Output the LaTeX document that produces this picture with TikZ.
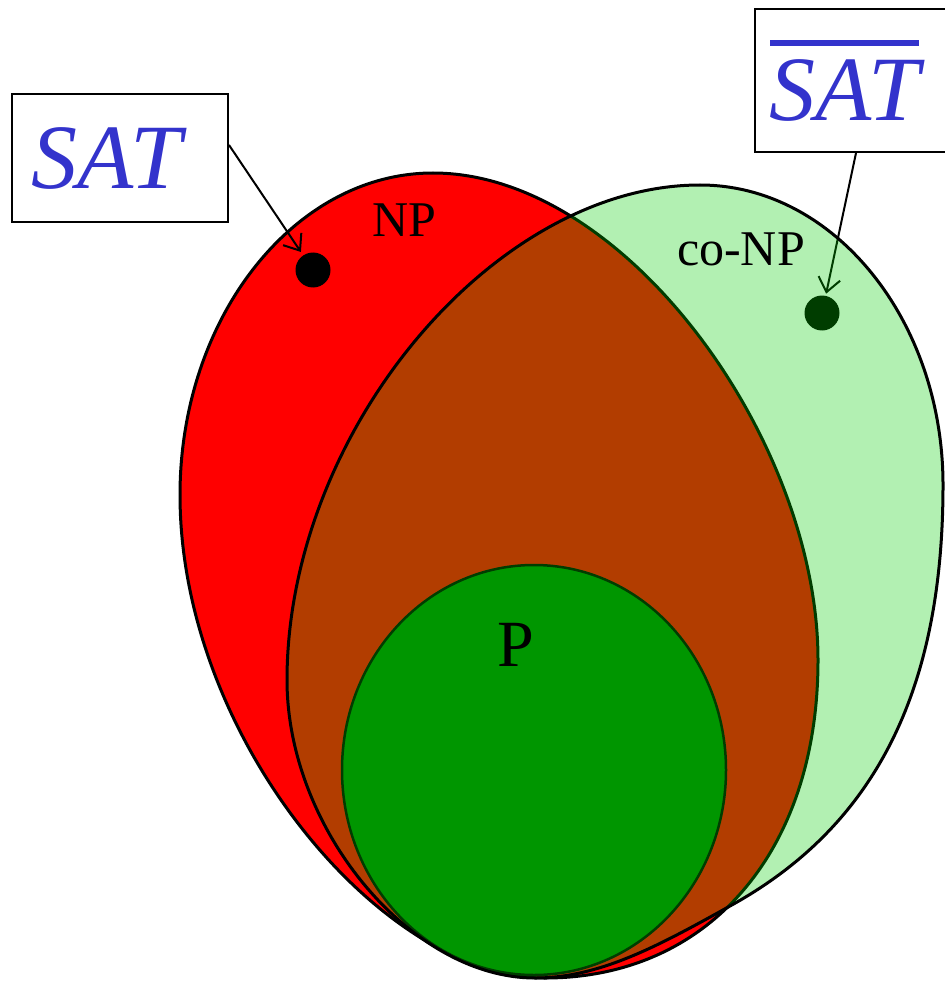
\documentclass[tikz,border=0pt]{standalone}
\usepackage{fontspec}
\setmainfont{Liberation Serif}
\usetikzlibrary{arrows.meta,calc}
\definecolor{npred}{RGB}{255,0,0}
\definecolor{pgreen}{RGB}{0,128,0}
\definecolor{conpgreen}{RGB}{0,204,0}
\definecolor{satblue}{RGB}{51,51,204}
\begin{document}
\begin{tikzpicture}[x=1pt,y=-1pt,
  eggline/.style={line width=3pt, draw=black},
  setlabel/.style={inner sep=0pt, font=\fontsize{50}{55}\selectfont},
  satbox/.style={draw=black, line width=2pt, fill=white, inner sep=0pt, text=satblue,
                 font=\fontsize{92}{100}\selectfont\itshape},
  elem/.style={circle, fill=black, minimum size=35pt, inner sep=0pt},
  arr/.style={line width=2pt, -{Straight Barb[length=14pt,width=22pt,line width=2pt]}}]
\useasboundingbox (0,0) rectangle (944,981);

% NP
\filldraw[eggline, fill=npred]
  (433,173) .. controls (625.5,173) and (818,441) .. (818,660)
  .. controls (818,851) and (709,978) .. (545,978)
  .. controls (380.7,978) and (180,736.5) .. (180,495)
  .. controls (180,318) and (294,173) .. (433,173) -- cycle;

% P
\filldraw[line width=2.5pt, draw=black, fill=pgreen] (534,770) ellipse [x radius=192, y radius=205];

% elements
\node[elem] (sat1) at (313,270) {};
\node[elem] (sat2) at (822,313) {};

% boxes
\node[satbox, minimum width=216pt, minimum height=128pt] (box1) at (120,158) {SAT\kern27pt};
\node[satbox, minimum width=202pt, minimum height=143pt] (box2) at (856,80.5)
  {\vbox{\hrule height 6pt \kern 14pt \hbox{SAT}}\kern23pt};

\draw[arr, shorten >=4pt] ($(box1.south east)!0.6!(box1.north east)$) -- (sat1);
\draw[arr, shorten >=2pt] (box2.south) -- (sat2);

% co-NP
\filldraw[eggline, fill=conpgreen, fill opacity=0.3]
  (700,185) .. controls (833.7,185) and (943,320) .. (943,485)
  .. controls (943,685) and (879,824) .. (730,906)
  .. controls (660,945) and (600,978) .. (535,978)
  .. controls (411,978) and (287,829) .. (287,680)
  .. controls (287,432.5) and (493.5,185) .. (700,185) -- cycle;

% labels
\node[setlabel] (np) at (404,220) {NP};
\node[setlabel] (conp) at (741,249) {co-NP};
\node[setlabel, font=\fontsize{66}{70}\selectfont] (p) at (516,645) {P};
\end{tikzpicture}
\end{document}
